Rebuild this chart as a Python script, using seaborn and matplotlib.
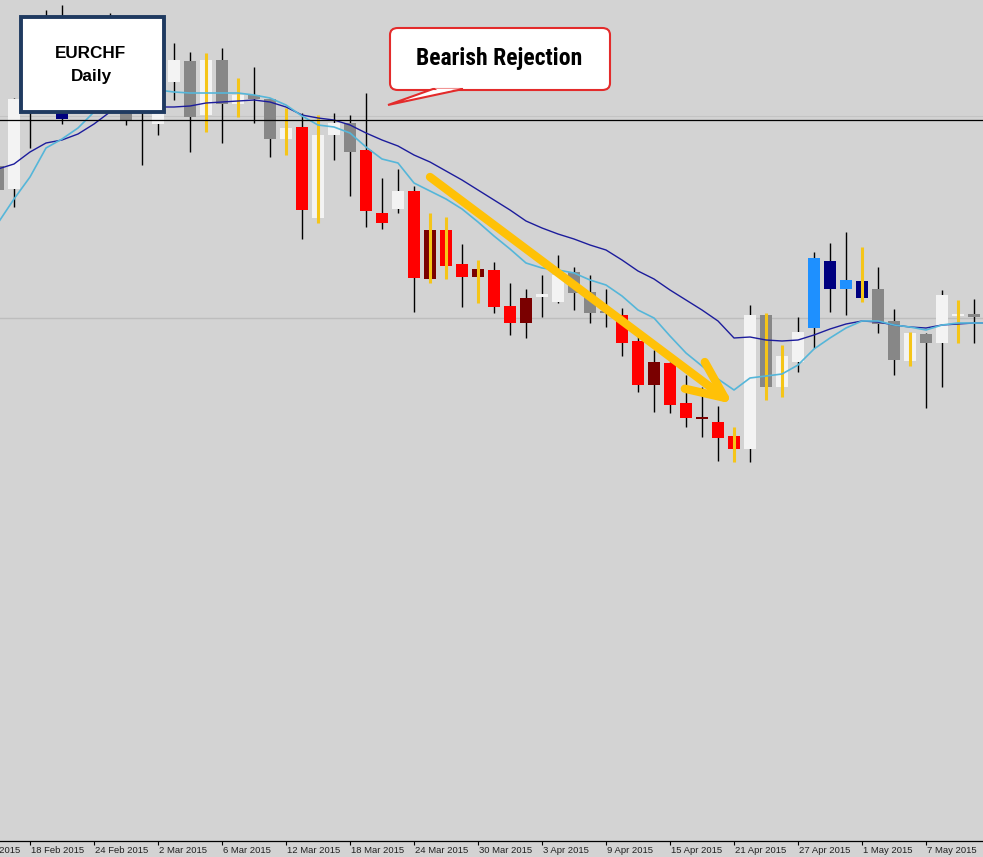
import numpy as np
import pandas as pd
import matplotlib
matplotlib.use('Agg')
import matplotlib.pyplot as plt
import seaborn as sns
from matplotlib import font_manager
from matplotlib.patches import FancyBboxPatch, Polygon

# daily EURCHF bars, bar 1 = 18 Feb 2015
bars = list(range(-1, 61))
opens = [1.0834, 1.0811, 1.0892, 1.0960, 1.0900, 1.0910, 1.0945, 1.0920, 1.0900, 1.0915,
         1.0876, 1.0918, 1.0939, 1.0885, 1.0940, 1.0896, 1.0905, 1.0901, 1.0861, 1.0873,
         1.0782, 1.0865, 1.0877, 1.0850, 1.0787, 1.0791, 1.0809, 1.0770, 1.0770, 1.0736,
         1.0731, 1.0730, 1.0694, 1.0702, 1.0703, 1.0698, 1.0728, 1.0708, 1.0689, 1.0685,
         1.0659, 1.0638, 1.0637, 1.0597, 1.0583, 1.0578, 1.0564, 1.0551, 1.0685, 1.0613,
         1.0638, 1.0672, 1.0739, 1.0711, 1.0719, 1.0711, 1.0679, 1.0639, 1.0666, 1.0657,
         1.0684, 1.0686]
highs = [1.0840, 1.0902, 1.0940, 1.0990, 1.0995, 1.0960, 1.0970, 1.0987, 1.0920, 1.0930,
         1.0900, 1.0957, 1.0948, 1.0947, 1.0952, 1.0922, 1.0933, 1.0902, 1.0892, 1.0887,
         1.0885, 1.0887, 1.0885, 1.0907, 1.0822, 1.0831, 1.0814, 1.0787, 1.0783, 1.0756,
         1.0740, 1.0738, 1.0717, 1.0711, 1.0725, 1.0745, 1.0733, 1.0725, 1.0711, 1.0692,
         1.0671, 1.0650, 1.0638, 1.0625, 1.0613, 1.0594, 1.0573, 1.0695, 1.0687, 1.0655,
         1.0683, 1.0748, 1.0757, 1.0768, 1.0753, 1.0733, 1.0691, 1.0668, 1.0667, 1.0710,
         1.0700, 1.0701]
lows = [1.0804, 1.0793, 1.0852, 1.0900, 1.0876, 1.0900, 1.0895, 1.0905, 1.0875, 1.0835,
        1.0865, 1.0900, 1.0848, 1.0868, 1.0857, 1.0883, 1.0877, 1.0843, 1.0845, 1.0761,
        1.0777, 1.0840, 1.0804, 1.0773, 1.0771, 1.0787, 1.0688, 1.0717, 1.0721, 1.0693,
        1.0697, 1.0687, 1.0665, 1.0662, 1.0683, 1.0697, 1.0690, 1.0677, 1.0673, 1.0644,
        1.0608, 1.0588, 1.0587, 1.0573, 1.0563, 1.0539, 1.0538, 1.0538, 1.0600, 1.0603,
        1.0628, 1.0652, 1.0688, 1.0685, 1.0698, 1.0667, 1.0625, 1.0634, 1.0592, 1.0613,
        1.0657, 1.0657]
closes = [1.0810, 1.0901, 1.0915, 1.0910, 1.0881, 1.0940, 1.0905, 1.0960, 1.0880, 1.0892,
          1.0892, 1.0940, 1.0883, 1.0940, 1.0896, 1.0905, 1.0901, 1.0861, 1.0872, 1.0790,
          1.0865, 1.0877, 1.0848, 1.0789, 1.0777, 1.0809, 1.0722, 1.0721, 1.0734, 1.0723,
          1.0723, 1.0693, 1.0677, 1.0677, 1.0706, 1.0725, 1.0707, 1.0687, 1.0687, 1.0657,
          1.0615, 1.0615, 1.0595, 1.0582, 1.0581, 1.0562, 1.0551, 1.0685, 1.0613, 1.0644,
          1.0668, 1.0742, 1.0711, 1.0720, 1.0702, 1.0676, 1.0640, 1.0667, 1.0657, 1.0705,
          1.0686, 1.0683]
body_kind = ['gray', 'white', 'white', 'gray', 'navy', 'white', 'gray', 'white', 'gray', 'red',
             'white', 'white', 'gray', 'white', 'gray', 'white', 'gray', 'gray', 'white', 'red',
             'white', 'white', 'gray', 'red', 'red', 'white', 'red', 'darkred', 'red', 'red',
             'darkred', 'red', 'red', 'darkred', 'white', 'white', 'gray', 'gray', 'gray', 'red',
             'red', 'darkred', 'red', 'red', 'darkred', 'red', 'red', 'white', 'gray', 'white',
             'white', 'blue', 'navy', 'blue', 'navy', 'gray', 'gray', 'white', 'gray', 'white',
             'white', 'gray']
gold_wick = [0, 0, 0, 0, 0, 0, 0, 0, 0, 0,
             0, 0, 0, 1, 0, 1, 0, 0, 1, 0,
             1, 0, 0, 0, 0, 0, 0, 1, 1, 0,
             1, 0, 0, 0, 0, 0, 0, 0, 0, 0,
             0, 0, 0, 0, 0, 0, 1, 0, 1, 1,
             0, 0, 0, 0, 1, 0, 0, 1, 0, 0,
             1, 0]

# moving averages
ma_bars = list(range(-1, 62))
ma_slow = [1.0831, 1.0836, 1.0848, 1.0857, 1.0860, 1.0866, 1.0876, 1.0888, 1.0891, 1.0892,
           1.0893, 1.0893, 1.0894, 1.0897, 1.0898, 1.0899, 1.0900, 1.0898, 1.0893, 1.0885,
           1.0882, 1.0880, 1.0875, 1.0867, 1.0860, 1.0854, 1.0845, 1.0838, 1.0829, 1.0820,
           1.0810, 1.0800, 1.0790, 1.0779, 1.0772, 1.0766, 1.0761, 1.0755, 1.0750, 1.0740,
           1.0729, 1.0721, 1.0710, 1.0700, 1.0690, 1.0679, 1.0662, 1.0663, 1.0660, 1.0659,
           1.0660, 1.0665, 1.0671, 1.0676, 1.0679, 1.0678, 1.0675, 1.0673, 1.0672, 1.0675,
           1.0676, 1.0677, 1.0677]
ma_fast = [1.0777, 1.0801, 1.0823, 1.0852, 1.0861, 1.0872, 1.0888, 1.0900, 1.0906, 1.0909,
           1.0910, 1.0908, 1.0907, 1.0907, 1.0907, 1.0907, 1.0905, 1.0902, 1.0895, 1.0884,
           1.0875, 1.0873, 1.0867, 1.0853, 1.0841, 1.0837, 1.0817, 1.0809, 1.0801, 1.0791,
           1.0778, 1.0764, 1.0751, 1.0737, 1.0732, 1.0730, 1.0727, 1.0720, 1.0715, 1.0704,
           1.0690, 1.0682, 1.0664, 1.0647, 1.0634, 1.0621, 1.0610, 1.0622, 1.0624, 1.0626,
           1.0635, 1.0651, 1.0662, 1.0672, 1.0679, 1.0679, 1.0675, 1.0673, 1.0670, 1.0675,
           1.0677, 1.0677, 1.0677]

level_black = 1.0880
level_gray = 1.0682
level_faint = 1.0884

BG = '#D3D3D3'
body_colors = {'white': '#F3F3F3', 'gray': '#878787', 'red': '#FF0000',
               'darkred': '#7A0000', 'navy': '#00007F', 'blue': '#1E90FF'}
GOLD = '#F5C518'

# pick the narrowest bold face that is installed for the callout text
installed = {f.name for f in font_manager.fontManager.ttflist}
narrow = 'DejaVu Sans'
for name in ['Liberation Sans Narrow', 'DejaVu Sans Condensed', 'Roboto Condensed',
             'Noto Sans Condensed', 'Open Sans Condensed', 'Roboto']:
    if name in installed:
        narrow = name
        break

W, H = 983, 857
fig = plt.figure(figsize=(W / 100, H / 100), dpi=100, facecolor=BG)
ax = fig.add_axes([0, 16 / H, 1, 841 / H])
ax.set_facecolor(BG)

def px(x, y):
    return (x / W, 1 - y / H)

o = np.array(opens)
c = np.array(closes)
bottoms = np.minimum(o, c)
heights = np.maximum(np.abs(c - o), 0.0002)
gold = np.array(gold_wick, dtype=bool)
xb = np.array(bars)

ax.axhline(level_faint, color='#C4C4C4', lw=0.8, zorder=1)
ax.axhline(level_gray, color='#BDBDBD', lw=1.0, zorder=1)
ax.axhline(level_black, color='black', lw=0.9, zorder=6)

# wicks: black behind body, gold over it
ax.vlines(xb[~gold], np.array(lows)[~gold], np.array(highs)[~gold], colors='black', linewidths=1.0, zorder=2)
ax.bar(bars, heights, bottom=bottoms, width=0.69, color=[body_colors[k] for k in body_kind],
       linewidth=0, zorder=3)
ax.vlines(xb[gold], np.array(lows)[gold], np.array(highs)[gold], colors=GOLD, linewidths=2.2, zorder=4)

sns.lineplot(x=ma_bars, y=ma_slow, color='#1C1C9C', lw=1.0, ax=ax, zorder=5)
sns.lineplot(x=ma_bars, y=ma_fast, color='#55B6D9', lw=1.2, ax=ax, zorder=5)

ax.annotate('', xy=(44.94, 1.0596), xytext=(26, 1.0823),
            arrowprops=dict(arrowstyle='->,head_length=1.8,head_width=0.8', color='#FFC107',
                            lw=6.0, shrinkA=0, shrinkB=0, mutation_scale=15),
            zorder=7)

ax.set_xlim(-14 / 16, (W - 14) / 16)
ax.set_ylim(1.1 - 0.0841, 1.1)
ax.set_xlabel('')
ax.set_ylabel('')
for s in ['left', 'right', 'top']:
    ax.spines[s].set_visible(False)
ax.spines['bottom'].set_color('black')
ax.spines['bottom'].set_linewidth(0.9)
ax.set_yticks([])

dates = pd.bdate_range('2015-02-12', periods=64)
tick_bars = list(range(-3, 61, 4))
ax.set_xticks([b for b in tick_bars if b >= -0.875])
ax.set_xticklabels([])
ax.tick_params(axis='x', direction='out', length=3, width=0.8, color='black')
for b in tick_bars:
    d = dates[b + 3]
    ax.annotate(f"{d.day} {d:%b %Y}", xy=(b, 0), xycoords=('data', 'axes fraction'),
                xytext=(1, -3.5), textcoords='offset points', ha='left', va='top',
                fontsize=6.8, family=['Liberation Sans', 'DejaVu Sans'], color='#202020',
                annotation_clip=False)

# EURCHF label box
x0, y0 = px(21, 112)
x1, y1 = px(164, 17)
fig.add_artist(FancyBboxPatch((x0, y0), x1 - x0, y1 - y0, boxstyle='square,pad=0',
                              transform=fig.transFigure, facecolor='white',
                              edgecolor='#1F3A60', linewidth=2.8, zorder=10))
fig.text(*px(91, 53), 'EURCHF', ha='center', va='center', fontsize=12.3, fontweight='bold',
         family=['Liberation Sans', 'DejaVu Sans'], color='black', zorder=11)
fig.text(*px(91, 76), 'Daily', ha='center', va='center', fontsize=12.3, fontweight='bold',
         family=['Liberation Sans', 'DejaVu Sans'], color='black', zorder=11)

# callout
cx0, cy0 = px(390, 90)
cx1, cy1 = px(610, 28)
fig.add_artist(FancyBboxPatch((cx0, cy0), cx1 - cx0, cy1 - cy0,
                              boxstyle='round,pad=0,rounding_size=0.008',
                              transform=fig.transFigure, facecolor='white',
                              edgecolor='#E32B2B', linewidth=1.5, zorder=10))
fig.add_artist(Polygon([px(433, 89), px(463, 89), px(388, 105)], closed=True,
                       transform=fig.transFigure, facecolor='white', edgecolor='#E32B2B',
                       linewidth=1.5, zorder=10))
fig.add_artist(Polygon([px(435, 88.5), px(461, 88.5), px(440, 92)], closed=True,
                       transform=fig.transFigure, facecolor='white', edgecolor='none',
                       zorder=10.5))
callout = fig.text(*px(499, 59), 'Bearish Rejection', ha='center', va='center', fontsize=17,
                   fontweight='heavy', family=[narrow, 'DejaVu Sans'], color='black', zorder=11)

# shrink the callout text until it fits the width it has in the chart (~175 px)
renderer = fig.canvas.get_renderer()
for _ in range(3):
    w = callout.get_window_extent(renderer).width
    if w > 178:
        callout.set_fontsize(callout.get_fontsize() * 175 / w)

fig.savefig('out.png', dpi=100, facecolor=BG)
